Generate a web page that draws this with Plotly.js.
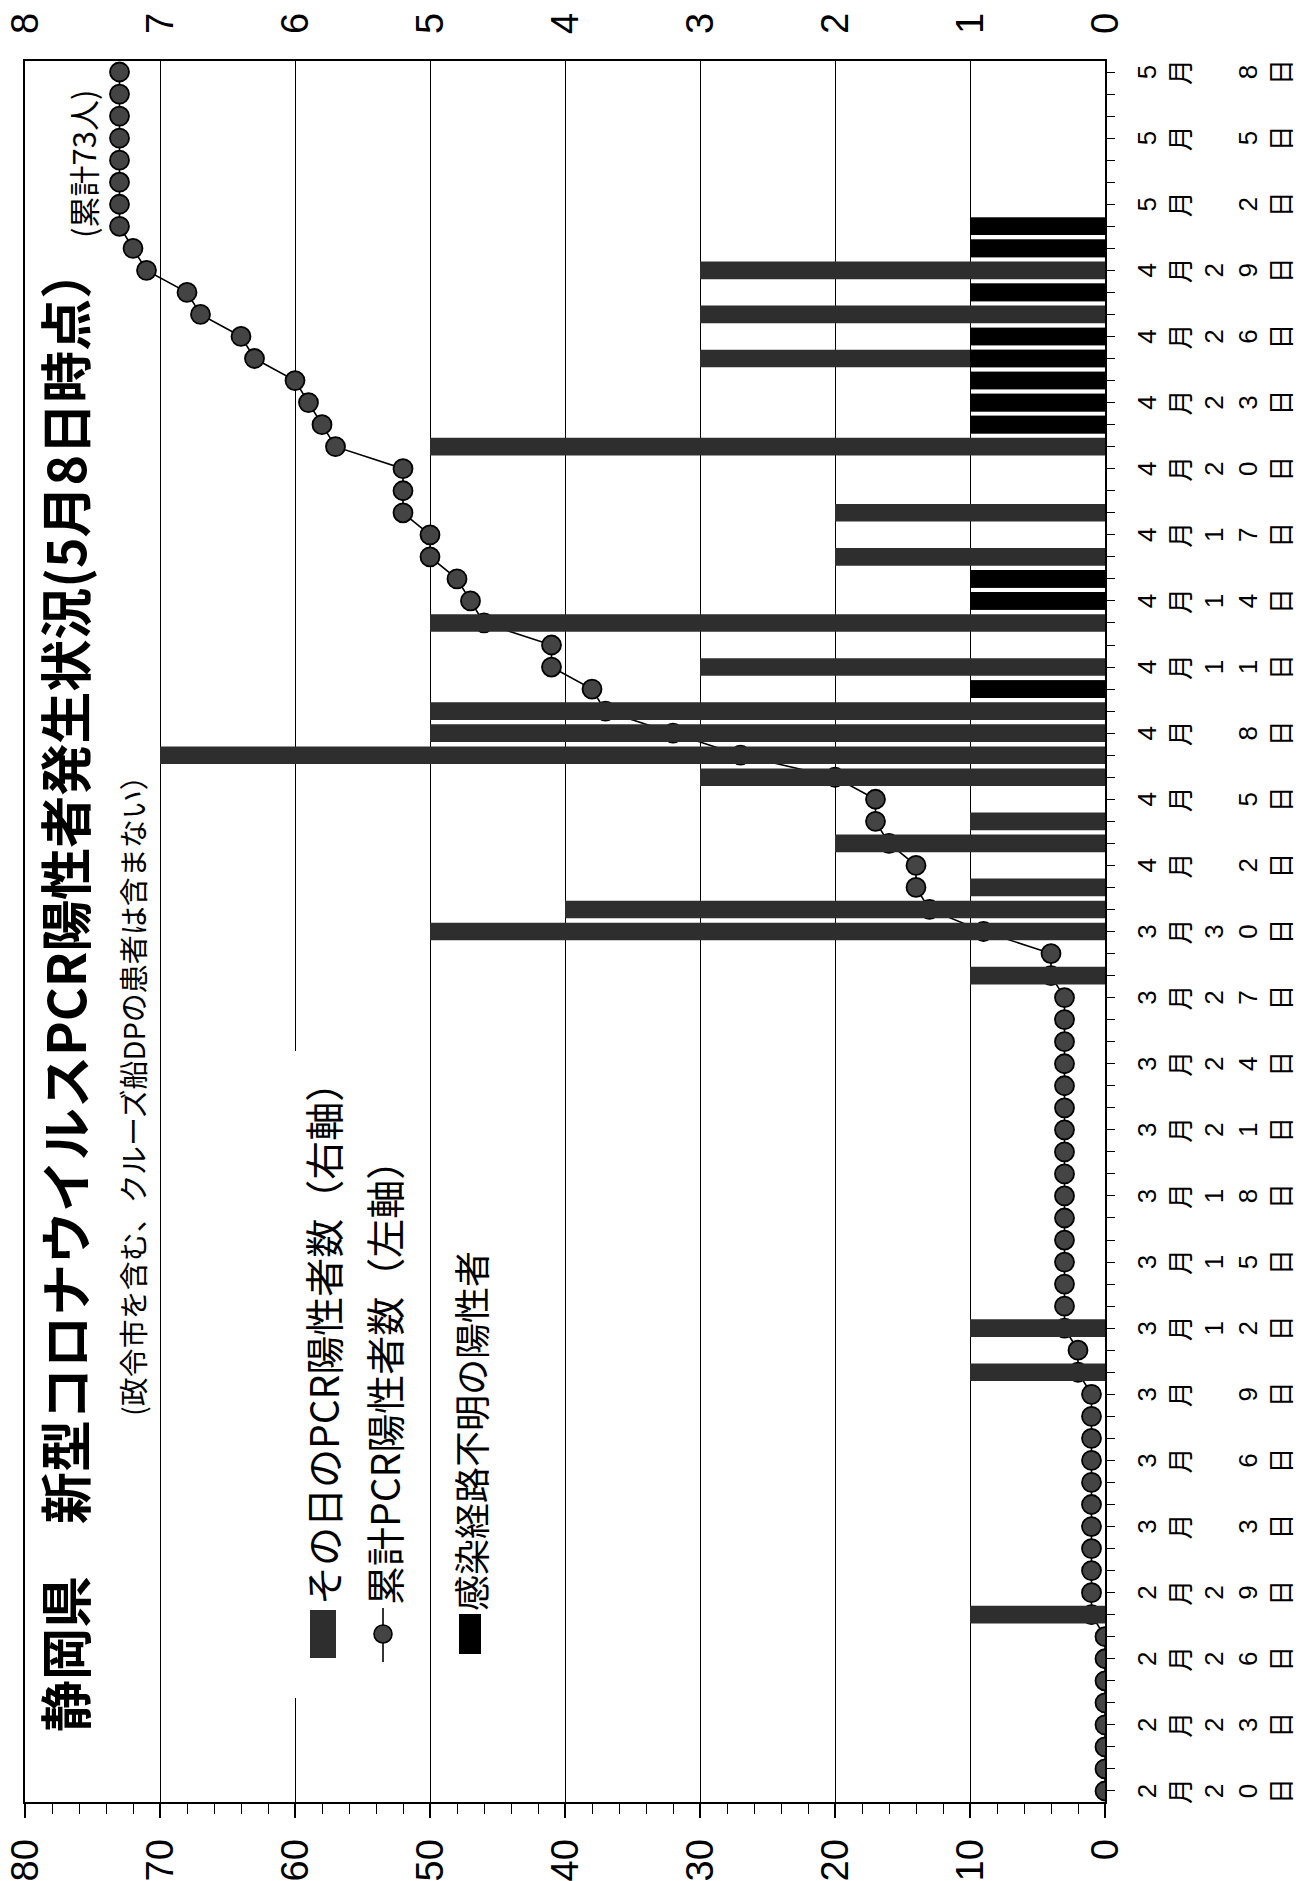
<!DOCTYPE html>
<html>
<head>
<meta charset="utf-8">
<script src="https://cdn.plot.ly/plotly-3.0.1.min.js"></script>
<style>
  html, body { margin: 0; padding: 0; background: #fff; }
  #frame { position: relative; width: 1315px; height: 1881px; overflow: hidden; background: #fff; }
  #chart { position: absolute; left: 0; top: 0; width: 1881px; height: 1315px;
           transform-origin: 0 0; transform: translate(0px, 1881px) rotate(-90deg); }
</style>
</head>
<body>
<div id="frame"><div id="chart"></div></div>
<script>
// ---- data ----
const dates = [
  '2020-02-20','2020-02-21','2020-02-22','2020-02-23','2020-02-24','2020-02-25','2020-02-26','2020-02-27','2020-02-28','2020-02-29',
  '2020-03-01','2020-03-02','2020-03-03','2020-03-04','2020-03-05','2020-03-06','2020-03-07','2020-03-08','2020-03-09','2020-03-10',
  '2020-03-11','2020-03-12','2020-03-13','2020-03-14','2020-03-15','2020-03-16','2020-03-17','2020-03-18','2020-03-19','2020-03-20',
  '2020-03-21','2020-03-22','2020-03-23','2020-03-24','2020-03-25','2020-03-26','2020-03-27','2020-03-28','2020-03-29','2020-03-30',
  '2020-03-31','2020-04-01','2020-04-02','2020-04-03','2020-04-04','2020-04-05','2020-04-06','2020-04-07','2020-04-08','2020-04-09',
  '2020-04-10','2020-04-11','2020-04-12','2020-04-13','2020-04-14','2020-04-15','2020-04-16','2020-04-17','2020-04-18','2020-04-19',
  '2020-04-20','2020-04-21','2020-04-22','2020-04-23','2020-04-24','2020-04-25','2020-04-26','2020-04-27','2020-04-28','2020-04-29',
  '2020-04-30','2020-05-01','2020-05-02','2020-05-03','2020-05-04','2020-05-05','2020-05-06','2020-05-07','2020-05-08'
];
const dailyFeb = [0,0,0,0,0,0,0,0,1,0];
const dailyMar = [0,0,0,0,0,0,0,0,0, 1,0,1, 0,0,0,0,0,0,0,0,0,0,0,0,0,0,0, 1,0,5,4];
const dailyApr = [1,0,2,1,0,3,7,5,5,1,3,0,5,1,1,2,0,2,0,0,5,1,1,1,3,1,3,1,3,1];
const dailyMay = [1,0,0,0,0,0,0,0];

const unknownFeb = [0,0,0,0,0,0,0,0,0,0];
const unknownMar = [0,0,0,0,0,0,0,0,0, 0,0,0, 0,0,0,0,0,0,0,0,0,0,0,0,0,0,0, 0,0,0,0];
const unknownApr = [0,0,0,0,0,0,0,0,0,1,0,0,0,1,1,0,0,0,0,0,0,1,1,1,1,1,0,1,0,1];
const unknownMay = [1,0,0,0,0,0,0,0];

const cumFeb = [0,0,0,0,0,0,0,0,1,1];
const cumMar = [1,1,1,1,1,1,1,1,1, 2,2, 3,3,3,3,3,3,3,3,3,3,3,3,3,3,3,3, 4,4,9,13];
const cumApr = [14,14,16,17,17,20,27,32,37,38,41,41,46,47,48,50,50,52,52,52,57,58,59,60,63,64,67,68,71,72];
const cumMay = [73,73,73,73,73,73,73,73];

const tickDates = ['2020-02-20','2020-02-23','2020-02-26','2020-02-29','2020-03-03','2020-03-06','2020-03-09',
  '2020-03-12','2020-03-15','2020-03-18','2020-03-21','2020-03-24','2020-03-27','2020-03-30','2020-04-02',
  '2020-04-05','2020-04-08','2020-04-11','2020-04-14','2020-04-17','2020-04-20','2020-04-23','2020-04-26',
  '2020-04-29','2020-05-02','2020-05-05','2020-05-08'];
const leftTicks = [0,10,20,30,40,50,60,70,80];
const rightTicks = [0,1,2,3,4,5,6,7,8];

const titleText = '静岡県　新型コロナウイルスPCR陽性者発生状況(5月8日時点）';
const totalText = '(累計73人)';
const subText = '(政令市を含む、クルーズ船DPの患者は含まない）';
const legendDaily = 'その日のPCR陽性者数（右軸）';
const legendCum = '累計PCR陽性者数（左軸）';
const legendUnknown = '感染経路不明の陽性者';

// ---- assemble ----
const daily = dailyFeb.concat(dailyMar, dailyApr, dailyMay);
const unknown = unknownFeb.concat(unknownMar, unknownApr, unknownMay);
const cum = cumFeb.concat(cumMar, cumApr, cumMay);

const tickText = tickDates.map(d => {
  const m = String(parseInt(d.slice(5,7),10));
  const dd = String(parseInt(d.slice(8,10),10));
  const tens = dd.length > 1 ? dd[0] : '\u00a0';
  const ones = dd[dd.length-1];
  return [m, '月', tens, ones, '日'].join('<br>');
});

const JP = '"Noto Sans CJK JP", "Noto Sans", sans-serif';
const NUM = '"Liberation Sans", Arial, sans-serif';
const DAY = 86400000;

// pixel geometry of the un-rotated plot (1881 x 1315)
const L = 79, R = 61, T = 25, B = 210;
const PW = 1881 - L - R, PH = 1315 - T - B;
const px = x => (x - L) / PW;
const py = y => (1315 - B - y) / PH;

const traces = [
  { type: 'bar', x: dates, y: daily, yaxis: 'y2', width: 0.8 * DAY,
    marker: { color: '#2e2e2e', line: { width: 0 } }, hoverinfo: 'x+y', name: legendDaily },
  { type: 'bar', x: dates, y: unknown, yaxis: 'y2', width: 0.8 * DAY,
    marker: { color: '#000000', line: { width: 0 } }, hoverinfo: 'x+y', name: legendUnknown },
  { type: 'scatter', mode: 'lines+markers', x: dates, y: cum, yaxis: 'y',
    line: { color: '#000', width: 1.6 },
    marker: { size: 19, color: '#444444', line: { color: '#000', width: 1.8 } }, name: legendCum }
];

const layout = {
  width: 1881, height: 1315,
  margin: { l: L, r: R, t: T, b: B, pad: 0 },
  paper_bgcolor: '#fff', plot_bgcolor: '#fff',
  showlegend: false, barmode: 'overlay',
  font: { family: JP, color: '#000' },
  xaxis: {
    type: 'date', range: ['2020-02-19 12:00', '2020-05-08 12:00'],
    tickmode: 'array', tickvals: tickDates, ticktext: tickText,
    tickfont: { size: 26, family: NUM + ', ' + JP, color: '#000' },
    ticks: 'outside', ticklen: 8, tickcolor: '#000', tickwidth: 1,
    minor: { dtick: DAY, tick0: '2020-02-20', ticks: 'outside', ticklen: 8, tickcolor: '#000', tickwidth: 1 },
    ticklabelstandoff: 10,
    showline: true, linecolor: '#000', linewidth: 1.6, mirror: true,
    showgrid: false, zeroline: false, fixedrange: true
  },
  yaxis: {
    range: [0, 80], tickmode: 'array', tickvals: leftTicks,
    tickfont: { size: 38, family: NUM, color: '#000' },
    ticks: 'outside', ticklen: 14, tickcolor: '#000', tickwidth: 1.2,
    minor: { dtick: 2, ticks: 'outside', ticklen: 10, tickcolor: '#000', tickwidth: 1 },
    ticklabelstandoff: 14,
    showgrid: true, gridcolor: '#000', gridwidth: 1,
    showline: true, linecolor: '#000', linewidth: 1.6, mirror: true,
    zeroline: false, fixedrange: true
  },
  yaxis2: {
    range: [0, 8], overlaying: 'y', side: 'right', tickmode: 'array', tickvals: rightTicks,
    tickfont: { size: 38, family: NUM, color: '#000' },
    ticks: '', ticklabelstandoff: 26,
    showgrid: false, showline: false, zeroline: false, fixedrange: true
  },
  shapes: [
    // legend background box (hides gridlines behind legend)
    { type: 'rect', xref: 'paper', yref: 'paper', x0: px(183), x1: px(830), y0: py(420), y1: py(292),
      fillcolor: '#fff', line: { width: 0 }, layer: 'above' },
    // legend symbols
    { type: 'rect', xref: 'paper', yref: 'paper', x0: px(223), x1: px(271), y0: py(336), y1: py(310),
      fillcolor: '#2e2e2e', line: { width: 0 }, layer: 'above' },
    { type: 'line', xref: 'paper', yref: 'paper', x0: px(219), x1: px(273), y0: py(383), y1: py(383),
      line: { color: '#000', width: 1.6 }, layer: 'above' },
    { type: 'circle', xref: 'paper', yref: 'paper', xsizemode: 'pixel', ysizemode: 'pixel',
      xanchor: px(247), yanchor: py(383), x0: -9, x1: 9, y0: -9, y1: 9,
      fillcolor: '#444444', line: { color: '#000', width: 1.6 }, layer: 'above' },
    { type: 'rect', xref: 'paper', yref: 'paper', x0: px(227), x1: px(267), y0: py(481), y1: py(459),
      fillcolor: '#000', line: { width: 0 }, layer: 'above' }
  ],
  annotations: [
    { xref: 'paper', yref: 'paper', x: px(147), y: py(64), xanchor: 'left', yanchor: 'middle',
      text: '<b>' + titleText + '</b>', showarrow: false, font: { size: 52, family: JP, color: '#000' } },
    { xref: 'paper', yref: 'paper', x: px(1641), y: py(82), xanchor: 'left', yanchor: 'middle',
      text: totalText, showarrow: false, font: { size: 31, family: JP, color: '#000' } },
    { xref: 'paper', yref: 'paper', x: px(463), y: py(132), xanchor: 'left', yanchor: 'middle',
      text: subText, showarrow: false, font: { size: 29, family: JP, color: '#000' } },
    { xref: 'paper', yref: 'paper', x: px(274), y: py(322), xanchor: 'left', yanchor: 'middle',
      text: legendDaily, showarrow: false, font: { size: 39, family: JP, color: '#000' } },
    { xref: 'paper', yref: 'paper', x: px(274), y: py(383), xanchor: 'left', yanchor: 'middle',
      text: legendCum, showarrow: false, font: { size: 39, family: JP, color: '#000' } },
    { xref: 'paper', yref: 'paper', x: px(268), y: py(470), xanchor: 'left', yanchor: 'middle',
      text: legendUnknown, showarrow: false, font: { size: 36, family: JP, color: '#000' } }
  ]
};

Plotly.newPlot('chart', traces, layout, { displayModeBar: false, staticPlot: true });
</script>
</body>
</html>
